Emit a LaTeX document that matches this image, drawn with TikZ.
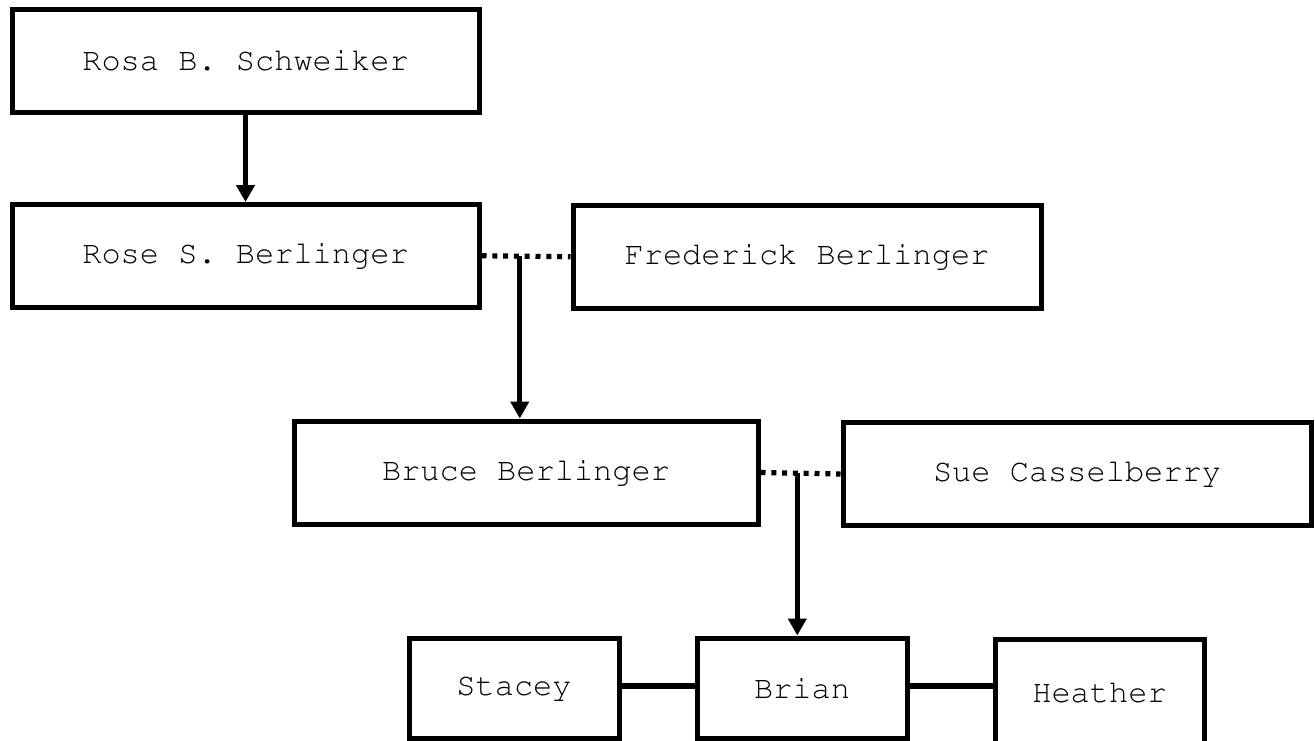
\documentclass[tikz,border=0pt]{standalone}
\usepackage[T1]{fontenc}
\usepackage{courier}
\usetikzlibrary{arrows.meta,calc}

\tikzset{
  person/.style={draw=black, line width=2.5pt, inner sep=0pt, fill=white,
    font=\ttfamily\fontsize{16}{19}\selectfont, text=black},
  descent/.style={line width=2.7pt, -{Triangle[length=8.5pt,width=9pt]}},
  couple/.style={line width=2.6pt, dash pattern=on 2.5pt off 2.9pt},
  sibling/.style={line width=3pt},
}

\begin{document}
\begin{tikzpicture}[x=0.5pt, y=-0.5pt]
  \useasboundingbox (0,0) rectangle (1315,740);
  \clip (0,0) rectangle (1315,740);

  % generations, top to bottom
  \node[person, minimum width=233.5pt, minimum height=51.5pt]  (rosa)    at (245.5,61)    {Rosa B. Schweiker};
  \node[person, minimum width=233.5pt, minimum height=51.25pt] (rose)    at (245.5,255.75) {Rose S. Berlinger};
  \node[person, minimum width=234pt,   minimum height=51.25pt] (fred)    at (807,256.75)  {Frederick Berlinger};
  \node[person, minimum width=232pt,   minimum height=51.5pt]  (bruce)   at (526,472.5)   {Bruce Berlinger};
  \node[person, minimum width=234pt,   minimum height=51.5pt]  (sue)     at (1077,474)    {Sue Casselberry};
  \node[person, minimum width=105pt,   minimum height=50pt]    (stacey)  at (514,688)     {Stacey};
  \node[person, minimum width=105pt,   minimum height=50pt]    (brian)   at (802,688)     {Brian};
  \node[person, minimum width=104.5pt, minimum height=52.75pt] (heather) at (1099.5,692)  {Heather};

  % parent to child
  \draw[descent] (rosa.south) -- (rose.north);

  % marriages and their children
  \draw[couple] (rose.east) -- (fred.west);
  \coordinate (j1) at ($(rose.east)!0.43!(fred.west)$);
  \draw[descent] (j1) -- (j1 |- bruce.north);

  \draw[couple] (bruce.east) -- (sue.west);
  \coordinate (j2) at ($(bruce.east)!0.46!(sue.west)$);
  \draw[descent] (j2) -- (j2 |- brian.north);

  % siblings
  \coordinate (s1) at ($(stacey.east)+(0,-2)$);
  \draw[sibling] (s1) -- (s1 -| brian.west);
  \coordinate (s2) at ($(brian.east)+(0,-2)$);
  \draw[sibling] (s2) -- (s2 -| heather.west);
\end{tikzpicture}
\end{document}
